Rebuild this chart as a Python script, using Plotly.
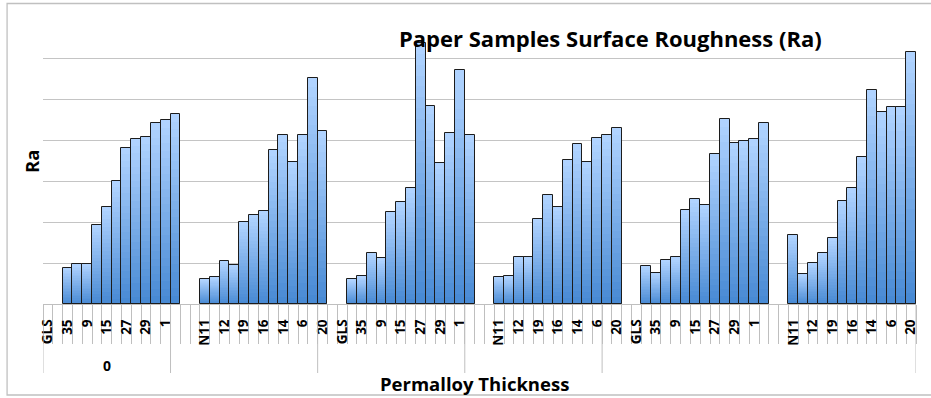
import plotly.graph_objects as go

# ---------------- data ----------------
# tick labels for each category slot along the x axis ("" = unlabelled slot)
set_labels = ["GLS", "", "35", "", "9", "", "15", "", "27", "", "29", "", "1", "", "",
              "", "N11", "", "12", "", "19", "", "16", "", "14", "", "6", "", "20", ""]
categories = (set_labels * 3)[:89]

# second-level (group) categories: (label, number of slots)
groups = [("0", 13), ("", 15), ("", 15), ("", 14), ("", 32)]

# Ra values per slot (None = no bar)
ra_values = [
    None, None,
    0.89, 0.97, 0.99, 1.93, 2.38, 3.00, 3.82, 4.03, 4.08, 4.44, 4.50, 4.66,
    None, None,
    0.60, 0.65, 1.05, 0.96, 2.01, 2.19, 2.27, 3.77, 4.13, 3.48, 4.13, 5.54, 4.24,
    None, None,
    0.60, 0.68, 1.24, 1.12, 2.24, 2.49, 2.83, 6.39, 4.84, 3.46, 4.18, 5.72, 4.13,
    None, None,
    0.67, 0.68, 1.14, 1.14, 2.08, 2.66, 2.38, 3.52, 3.91, 3.47, 4.06, 4.13, 4.31,
    None, None,
    0.92, 0.75, 1.08, 1.14, 2.29, 2.58, 2.43, 3.68, 4.52, 3.95, 3.99, 4.04, 4.44,
    None, None,
    1.68, 0.74, 1.01, 1.24, 1.61, 2.51, 2.84, 3.59, 5.25, 4.71, 4.83, 4.83, 6.18,
]

title_text = "Paper Samples Surface Roughness (Ra)"
x_title = "Permalloy Thickness"
y_title = "Ra"

# ---------------- layout constants ----------------
W, H = 931, 398
ML, MR, MT, MB = 43, 13, 18, 94
PW, PH = W - ML - MR, H - MT - MB
FONT = "Open Sans"

x = list(range(1, len(categories) + 1))

fig = go.Figure()

# gradient bars: stacked slices (light top -> darker bottom)
N = 24
top_rgb = (176, 211, 255)
bot_rgb = (72, 138, 212)
for k in range(N):
    t = k / (N - 1)
    c = tuple(round(bot_rgb[i] + (top_rgb[i] - bot_rgb[i]) * t) for i in range(3))
    fig.add_trace(go.Bar(
        x=x,
        y=[None if v is None else v / N for v in ra_values],
        base=[None if v is None else v * k / N for v in ra_values],
        width=1.0,
        marker=dict(color=f"rgb{c}", line=dict(width=0)),
        hoverinfo="skip", showlegend=False,
    ))
# outline
fig.add_trace(go.Bar(
    x=x, y=ra_values, width=1.0,
    marker=dict(color="rgba(0,0,0,0)", line=dict(color="#1c1c1c", width=1)),
    showlegend=False, name="Ra",
))

tickvals = [xi for xi, lab in zip(x, categories) if lab]
ticktext = [lab for lab in categories if lab]

fig.update_layout(
    width=W, height=H,
    margin=dict(l=ML, r=MR, t=MT, b=MB),
    paper_bgcolor="white", plot_bgcolor="white",
    barmode="overlay", bargap=0,
    font=dict(family=FONT, color="black"),
    xaxis=dict(
        range=[0.5, len(categories) + 0.5],
        tickmode="array", tickvals=tickvals, ticktext=ticktext,
        tickangle=-90, ticks="", showgrid=False, zeroline=False,
        tickfont=dict(family=FONT, size=13.5, weight="bold"),
        ticklabelstandoff=9,
        showline=True, linecolor="#bfbfbf", linewidth=1,
        minor=dict(ticks="outside", tickmode="array",
                   tickvals=[xi - 0.5 for xi in x] + [x[-1] + 0.5],
                   ticklen=39, tickcolor="#bfbfbf", tickwidth=1, showgrid=False),
    ),
    yaxis=dict(
        range=[0, 7], dtick=1, showticklabels=False, ticks="",
        showgrid=True, gridcolor="#c4c4c4", gridwidth=1.3, zeroline=False,
        showline=False,
    ),
)

# group dividers and labels (second category level)
div_len = 69 / PH
pos = 0.5
fig.add_shape(type="line", xref="x", yref="paper", x0=pos, x1=pos, y0=0, y1=-div_len,
              line=dict(color="#bfbfbf", width=1))
for lab, n in groups:
    start = pos
    pos += n
    fig.add_shape(type="line", xref="x", yref="paper", x0=pos, x1=pos, y0=0, y1=-div_len,
                  line=dict(color="#bfbfbf", width=1))
    if lab:
        fig.add_annotation(x=(start + pos) / 2, xref="x", y=-61 / PH, yref="paper",
                           text=lab, showarrow=False, yanchor="middle",
                           font=dict(family=FONT, size=14, weight="bold"))

# in-plot chart title
fig.add_annotation(x=(612 - ML) / PW, xref="paper", y=(H - MB - 38) / PH, yref="paper",
                   text=title_text, showarrow=False, yanchor="middle", xanchor="center",
                   font=dict(family=FONT, size=22, weight="bold"))
# axis titles
fig.add_annotation(x=(475 - ML) / PW, xref="paper", y=-(383 - (H - MB)) / PH, yref="paper",
                   text=x_title, showarrow=False, yanchor="middle", xanchor="center",
                   font=dict(family=FONT, size=18.5, weight="bold"))
fig.add_annotation(x=(31 - ML) / PW, xref="paper", y=((H - MB) - 162) / PH, yref="paper",
                   text=y_title, showarrow=False, textangle=-90, yanchor="middle", xanchor="center",
                   font=dict(family=FONT, size=18.5, weight="bold"))

# chart-area border
fig.add_shape(type="rect", xref="paper", yref="paper",
              x0=(7 - ML) / PW, x1=(940 - ML) / PW,
              y0=-(395 - (H - MB)) / PH, y1=((H - MB) - 3.5) / PH,
              line=dict(color="#c0c0c0", width=1.3), layer="below")

fig.write_html("out.html")
